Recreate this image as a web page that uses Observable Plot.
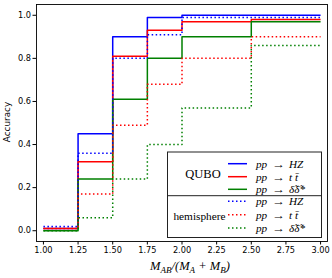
<!DOCTYPE html>
<html><head><meta charset="utf-8">
<script src="https://cdn.jsdelivr.net/npm/d3@7"></script>
<script src="https://cdn.jsdelivr.net/npm/@observablehq/plot@0.6"></script>
<style>body{margin:0;background:#fff}</style>
</head><body><div id="chart"></div>
<script>
// bin edges along M_AB/(M_A+M_B)
const binEdges = [1.0, 1.25, 1.5, 1.75, 2.0, 2.5, 3.0];
// accuracy in each bin (6 bins)
const quboHZ = [0.01, 0.45, 0.90, 0.99, 1.00, 1.00];
const quboTT = [0.01, 0.32, 0.81, 0.93, 0.97, 0.98];
const quboDD = [0.00, 0.24, 0.61, 0.80, 0.90, 0.97];
const hemiHZ = [0.02, 0.36, 0.80, 0.91, 0.99, 0.99];
const hemiTT = [0.01, 0.17, 0.49, 0.68, 0.80, 0.90];
const hemiDD = [0.00, 0.06, 0.24, 0.40, 0.57, 0.86];
const processInitial = "pp";
const processFinal = ["HZ", "t t\u0304", "\u03b4\u0303\u03b4\u0303*"];
const processColors = ["#0000ff", "#ff0000", "#008000"];
const methodLabels = ["QUBO", "hemisphere"];
const xTicks = [1.0, 1.25, 1.5, 1.75, 2.0, 2.25, 2.5, 2.75, 3.0];
const yTicks = [0.0, 0.2, 0.4, 0.6, 0.8, 1.0];

const seriesDefs = [
  {vals: quboHZ, proc: 0, method: 0},
  {vals: quboTT, proc: 1, method: 0},
  {vals: quboDD, proc: 2, method: 0},
  {vals: hemiHZ, proc: 0, method: 1},
  {vals: hemiTT, proc: 1, method: 1},
  {vals: hemiDD, proc: 2, method: 1}
];

const lineMarks = seriesDefs.map(s => {
  const pts = binEdges.map((e, i) => ({x: e, y: s.vals[Math.min(i, s.vals.length - 1)]}));
  return Plot.line(pts, {
    x: "x", y: "y", curve: "step-after",
    stroke: processColors[s.proc], strokeWidth: 1.5,
    strokeDasharray: s.method === 1 ? "1.5,2.5" : null,
    strokeLinecap: "butt"
  });
});

const chart = Plot.plot({
  width: 332, height: 278,
  marginLeft: 36, marginRight: 5, marginTop: 4, marginBottom: 37,
  style: {fontFamily: "DejaVu Sans", fontSize: "8px", color: "#000", background: "#fff"},
  x: {domain: [0.95, 3.05]},
  y: {domain: [-0.05, 1.05]},
  marks: [
    ...lineMarks,
    Plot.frame({stroke: "#000", strokeWidth: 0.9}),
    Plot.axisX({ticks: xTicks, tickFormat: d3.format(".2f"), tickSize: 3.5, tickPadding: 2, label: null, fontSize: 8.2}),
    Plot.axisY({ticks: yTicks, tickFormat: d3.format(".1f"), tickSize: 3.5, tickPadding: 2, label: null, fontSize: 8.2})
  ]
});
document.getElementById("chart").appendChild(chart);

const svg = d3.select(chart);
// y label
svg.append("text").attr("transform", "translate(10,122) rotate(-90)")
  .attr("text-anchor", "middle").attr("font-family", "DejaVu Sans").attr("font-size", 8.9)
  .attr("fill", "#000").text("Accuracy");
// x label with subscripts
const xl = svg.append("text").attr("x", 190).attr("y", 270).attr("text-anchor", "middle")
  .attr("font-family", "Liberation Serif").attr("font-style", "italic").attr("font-size", 12.5).attr("fill", "#000");
const parts = [["M",0],["AB",1],["/(",0],["M",0],["A",1],[" + ",0],["M",0],["B",1],[")",0]];
parts.forEach(([t, sub], i) => {
  const prevSub = i > 0 ? parts[i-1][1] : 0;
  const ts = xl.append("tspan").text(t);
  if (sub) ts.attr("font-size", 9);
  ts.attr("dy", sub && !prevSub ? 2.5 : (!sub && prevSub ? -2.5 : 0));
});

// legend
const lg = svg.append("g").attr("text-anchor", "start");
const box = {x0: 167.5, x1: 321.5, y0: 152, y1: 237.5, ymid: 195.7};
lg.append("rect").attr("x", box.x0).attr("y", box.y0).attr("width", box.x1 - box.x0).attr("height", box.y1 - box.y0)
  .attr("fill", "#fff").attr("fill-opacity", 0.85).attr("stroke", "#222").attr("stroke-width", 1);
lg.append("line").attr("x1", box.x0).attr("x2", box.x1).attr("y1", box.ymid).attr("y2", box.ymid)
  .attr("stroke", "#222").attr("stroke-width", 1);
const rowY = [[163.7, 176.7, 189.3], [201.3, 214.7, 228]];
methodLabels.forEach((m, mi) => {
  const cy = mi === 0 ? 173.5 : 216.5;
  lg.append("text").attr("x", mi === 0 ? 203 : 199.5).attr("y", cy).attr("dy", "0.35em")
    .attr("text-anchor", "middle").attr("font-family", "Liberation Serif")
    .attr("font-size", mi === 0 ? 12.5 : 11.3).attr("fill", "#000").text(m);
  processFinal.forEach((p, pi) => {
    const y = rowY[mi][pi];
    lg.append("line").attr("x1", 228).attr("x2", 247).attr("y1", y).attr("y2", y)
      .attr("stroke", processColors[pi]).attr("stroke-width", 1.5)
      .attr("stroke-dasharray", mi === 1 ? "1.5,2.5" : null);
    const t = lg.append("text").attr("y", y).attr("dy", "0.35em").attr("text-anchor", "start")
      .attr("font-family", "Liberation Serif").attr("font-size", 11.2).attr("fill", "#000");
    t.append("tspan").attr("x", 256).attr("font-style", "italic").text(processInitial);
    t.append("tspan").attr("x", 272).attr("textLength", 13).attr("lengthAdjust", "spacingAndGlyphs").text("\u2192");
    t.append("tspan").attr("x", 289).attr("font-style", "italic").text(p);
  });
});
</script></body></html>
